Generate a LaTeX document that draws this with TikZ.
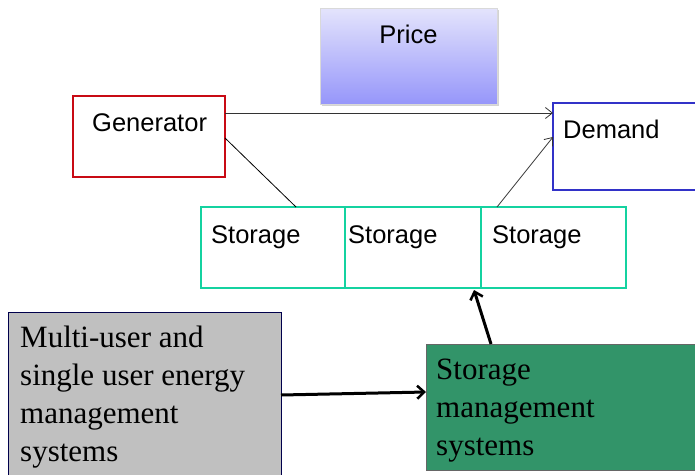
\documentclass[tikz,border=0pt]{standalone}
\usepackage{fontspec}
\setmainfont{Liberation Serif}
\setsansfont{Liberation Sans}
\usetikzlibrary{arrows.meta,shadows,calc}
\definecolor{genred}{RGB}{200,10,20}
\definecolor{demblue}{RGB}{50,50,200}
\definecolor{stteal}{RGB}{20,210,160}
\definecolor{mugray}{RGB}{192,192,192}
\definecolor{smgreen}{RGB}{50,148,105}
\definecolor{ptop}{RGB}{228,228,252}
\definecolor{pbot}{RGB}{150,150,250}
\tikzset{
  box/.style={draw, anchor=north west, inner sep=0pt, outer sep=0pt},
  sanstext/.style={anchor=base west, inner sep=0pt, font=\sffamily\fontsize{25.5}{30}\selectfont},
  seriftext/.style={anchor=north west, inner sep=0pt, align=left, font=\rmfamily\fontsize{31}{38}\selectfont},
  thin arrow/.style={draw=black!80, line width=0.8pt, -{Straight Barb[length=7pt,width=11pt]}},
  thick arrow/.style={draw=black, line width=3pt, -{Straight Barb[length=7pt,width=13pt,line width=2.5pt]}},
}
\begin{document}
\begin{tikzpicture}[x=1pt,y=-1pt]
\useasboundingbox (0,0) rectangle (695,474);
% Price
\node[box, draw=black!15, top color=ptop, bottom color=pbot, minimum width=177pt, minimum height=96pt,
      drop shadow={shadow xshift=2pt, shadow yshift=-2pt, opacity=0.35}] (price) at (320,8) {};
\node[sanstext, anchor=base] (pricet) at (408.5,43) {Price};
% Generator
\node[box, draw=genred, line width=2pt, fill=white, minimum width=152pt, minimum height=81pt] (gen) at (73,96) {};
\node[sanstext] (gent) at (92,131) {Generator};
% Demand
\node[box, draw=demblue, line width=2pt, fill=white, minimum width=150pt, minimum height=87pt] (dem) at (553,103) {};
\node[sanstext] (demt) at (563,138) {Demand};
% Storage boxes
\node[box, draw=stteal, line width=2pt, minimum width=144pt, minimum height=81pt] (s1) at (201,207) {};
\node[box, draw=stteal, line width=2pt, minimum width=136pt, minimum height=81pt] (s2) at (345,207) {};
\node[box, draw=stteal, line width=2pt, minimum width=145pt, minimum height=81pt] (s3) at (481,207) {};
\node[sanstext] (s1t) at (211,243) {Storage};
\node[sanstext] (s2t) at (348,243) {Storage};
\node[sanstext] (s3t) at (492,243) {Storage};
% Multi-user box
\node[box, draw=black!70!blue, line width=0.8pt, fill=mugray, minimum width=273pt, minimum height=170pt] (mu) at (8,312) {};
\node[seriftext] (mut) at (20,326) {Multi-user and\\single user energy\\management\\systems};
% Storage management box
\node[box, draw=black!60, line width=0.8pt, fill=smgreen, minimum width=275pt, minimum height=126pt] (sm) at (426,344) {};
\node[seriftext] (smt) at (436,359) {Storage\\management\\systems};
% connectors
\path (gen.north east) ++(0,17) coordinate (ga);
\draw[thin arrow] (ga) -- (ga -| dem.west);
\path (gen.north east) ++(0,42) coordinate (gb);
\path (s1.north east) ++(-49,0) coordinate (sa);
\draw[black, line width=0.8pt] (gb) -- (sa);
\path (s3.north west) ++(16,0) coordinate (sb);
\path (dem.north west) ++(0,34) coordinate (dc);
\draw[thin arrow] (sb) -- (dc);
\path (mu.north east) ++(0,83) coordinate (ma);
\path (sm.north west) ++(0,48) coordinate (mb);
\draw[thick arrow] (ma) -- (mb);
\path (sm.north west) ++(65,0) coordinate (sc);
\path (s3.south west) ++(-7,2) coordinate (sd);
\draw[thick arrow] (sc) -- (sd);
\end{tikzpicture}
\end{document}
